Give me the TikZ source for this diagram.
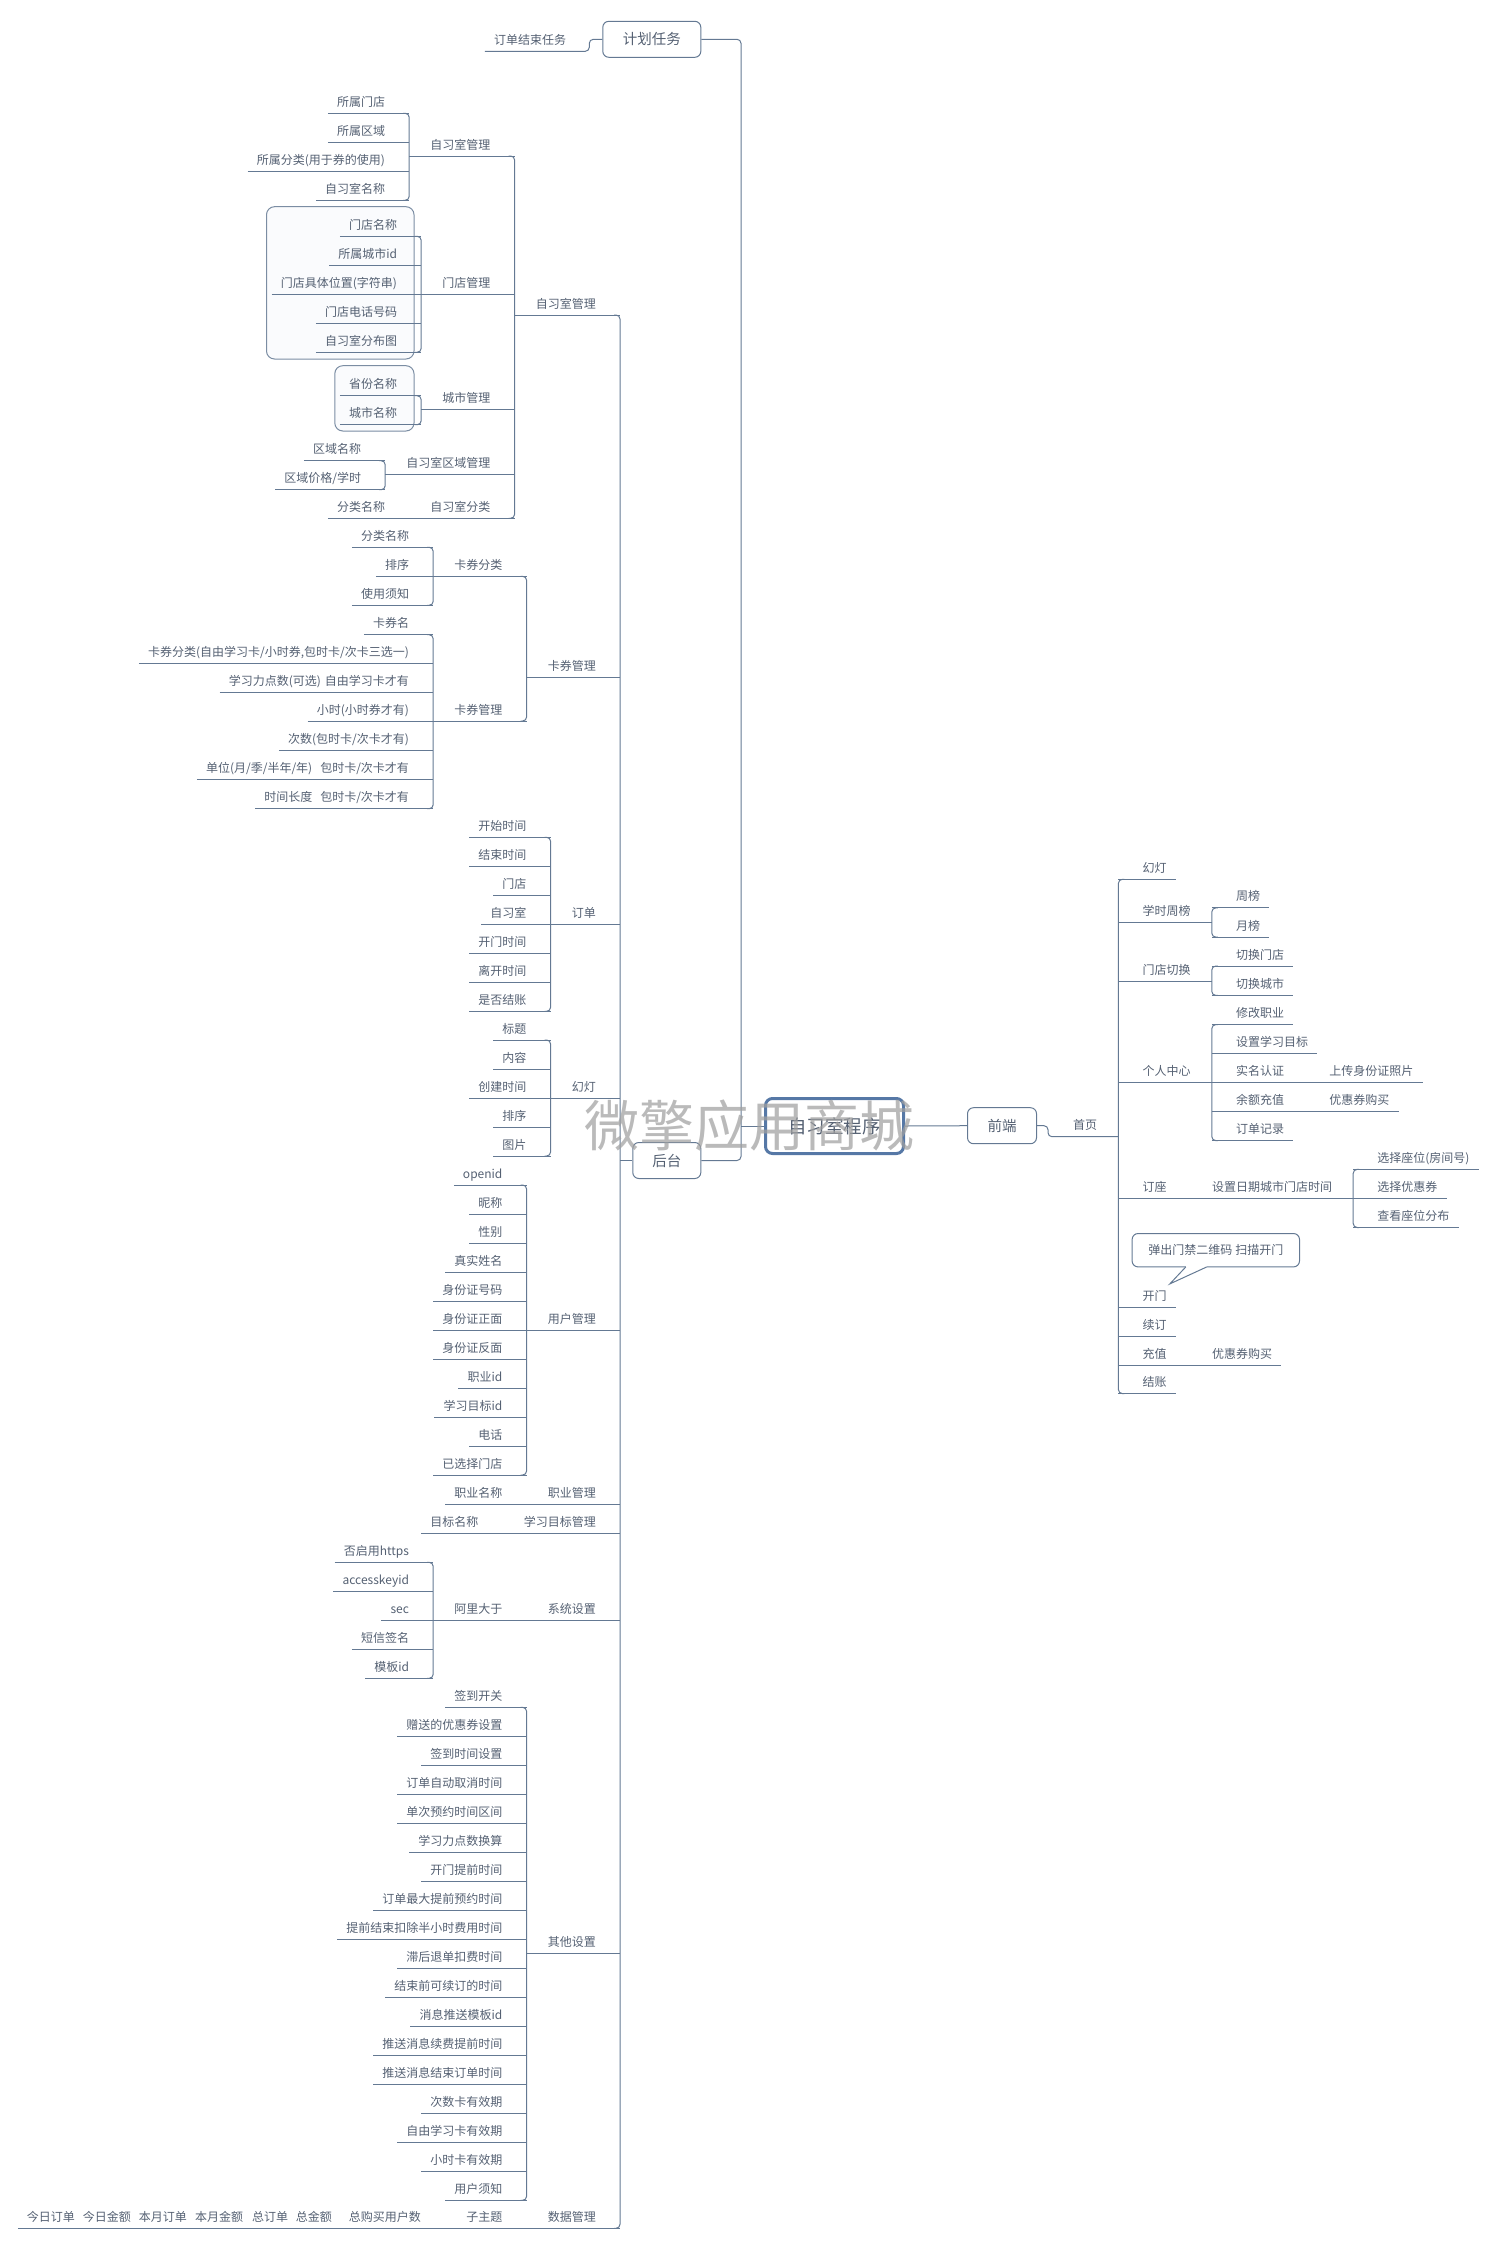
\documentclass[tikz,border=0pt]{standalone}
\usepackage{fontspec}
\setmainfont{Noto Sans CJK SC}
\usepackage{tikz}
\usetikzlibrary{positioning}
\usepackage{xcolor}
\definecolor{linec}{RGB}{100,121,147}
\definecolor{txtc}{RGB}{84,96,114}
\definecolor{rootc}{RGB}{86,120,166}
\definecolor{markc}{RGB}{160,160,160}
\definecolor{bndfill}{RGB}{250,251,253}
\tikzset{
	lbl/.style={font=\fontsize{12}{14}\selectfont,text=txtc,inner sep=0pt},
	leafl/.style={lbl,anchor=base east},
	leafr/.style={lbl,anchor=base west},
	ln/.style={draw=linec,line width=1pt,rounded corners=4pt},
	topic/.style={draw=linec,line width=1pt,rounded corners=6pt,text=txtc,font=\fontsize{14.5}{16}\selectfont,inner sep=0pt,minimum height=36pt},
	bnd/.style={draw=linec!85,line width=1pt,rounded corners=8pt,fill=bndfill}
}

\begin{document}
\begin{tikzpicture}[x=1pt,y=-1pt]
			\useasboundingbox (0,0) rectangle (1497,2251);
			\draw[bnd] (266.5,206.7) rectangle (414,359);
			\draw[bnd] (334.8,365.7) rectangle (414,431);
			\node[topic,draw=rootc,line width=3pt,rounded corners=7pt,font=\fontsize{18.5}{21}\selectfont,minimum width=138pt,minimum height=55pt] (root) at (834.5,1126) {自习室程序};
			\node[topic,minimum width=98pt] (jhrw) at (651.8,39.3) {计划任务};
			\node[topic,minimum width=68pt] (ht) at (666.8,1160.5) {后台};
			\node[topic,minimum width=69pt] (qd) at (1002,1125.7) {前端};
			\draw[ln] (root.east) -- (qd.west);
			\draw[ln] (root.west) -- ([xshift=-23pt]root.west);
			\draw[ln] (jhrw.east) -- ([xshift=-23pt]root.west |- jhrw.east) -- ([xshift=-23pt]root.west |- ht.east) -- (ht.east);
			\node[leafl] (ddjs) at ([xshift=-36pt]jhrw.west |- 0,44.3) {订单结束任务};
			\draw[ln] (jhrw.west) -- ([xshift=-13pt]jhrw.west) -- ([shift={(23,7)}]ddjs.base east) -- ([shift={(-9,7)}]ddjs.base west);
			\foreach \n/\yy/\txt in {zxgl/308/自习室管理,kqgl/670.3/卡券管理,dd/917.3/订单,hd/1091.3/幻灯,yhgl/1323/用户管理,zygl/1497/职业管理,mbgl/1526.3/学习目标管理,xtsz/1613/系统设置,qtsz/1946.3/其他设置,sjgl/2221.3/数据管理}
			\node[leafl] (\n) at (596,\yy) {\txt};
			\draw[ln] (ht.west) -- ([xshift=24pt]zxgl.base east |- ht.west);
			\foreach \n/\yy/\txt in {zsgl/149/自习室管理,mdgl/287.3/门店管理,csgl/402.3/城市管理,qygl/467/自习室区域管理,zsfl/511.3/自习室分类}
			\node[leafl] (\n) at ([xshift=-45pt]zxgl.base west |- 0,\yy) {\txt};
			\foreach \n/\yy/\txt in {kqfl/569.3/卡券分类,kqgl2/714/卡券管理}
			\node[leafl] (\n) at ([xshift=-45pt]kqgl.base west |- 0,\yy) {\txt};
			\node[leafl] (aldy) at ([xshift=-45pt]xtsz.base west) {阿里大于};
			\node[leafl] (zzt) at ([xshift=-45pt]sjgl.base west) {子主题};
			\foreach \txt [count=\i] in {所属门店,所属区域,所属分类(用于券的使用),自习室名称}
			\node[leafl] (zs\i) at ([xshift=-45pt]zsgl.base west |- 0,77.3+29*\i) {\txt};
			\foreach \txt [count=\i] in {门店名称,所属城市id,门店具体位置(字符串),门店电话号码,自习室分布图}
			\node[leafl] (md\i) at ([xshift=-45pt]mdgl.base west |- 0,200.3+29*\i) {\txt};
			\foreach \txt [count=\i] in {省份名称,城市名称}
			\node[leafl] (cs\i) at ([xshift=-45pt]csgl.base west |- 0,359.7+29*\i) {\txt};
			\foreach \txt [count=\i] in {区域名称,区域价格/学时}
			\node[leafl] (qy\i) at ([xshift=-45pt]qygl.base west |- 0,424.7+29*\i) {\txt};
			\node[leafl] (fl1) at ([xshift=-45pt]zsfl.base west) {分类名称};
			\foreach \txt [count=\i] in {分类名称,排序,使用须知}
			\node[leafl] (kf\i) at ([xshift=-45pt]kqfl.base west |- 0,511.3+29*\i) {\txt};
			\foreach \txt [count=\i] in {卡券名,{卡券分类(自由学习卡/小时券,包时卡/次卡三选一)},学习力点数(可选)\hspace{4pt}自由学习卡才有,小时(小时券才有),次数(包时卡/次卡才有),单位(月/季/半年/年)\hspace{8pt}包时卡/次卡才有,时间长度\hspace{8pt}包时卡/次卡才有}
			\node[leafl] (kg\i) at ([xshift=-45pt]kqgl2.base west |- 0,598.7+29*\i) {\txt};
			\foreach \txt [count=\i] in {开始时间,结束时间,门店,自习室,开门时间,离开时间,是否结账}
			\node[leafl] (dd\i) at ([xshift=-45pt]dd.base west |- 0,801.3+29*\i) {\txt};
			\foreach \txt [count=\i] in {标题,内容,创建时间,排序,图片}
			\node[leafl] (hd\i) at ([xshift=-45pt]hd.base west |- 0,1004+29*\i) {\txt};
			\foreach \txt [count=\i] in {openid,昵称,性别,真实姓名,身份证号码,身份证正面,身份证反面,职业id,学习目标id,电话,已选择门店}
			\node[leafl] (yh\i) at ([xshift=-45pt]yhgl.base west |- 0,1149+29*\i) {\txt};
			\node[leafl] (zy1) at ([xshift=-45pt]zygl.base west) {职业名称};
			\node[leafl] (mb1) at ([xshift=-45pt]mbgl.base west) {目标名称};
			\foreach \txt [count=\i] in {否启用https,accesskeyid,sec,短信签名,模板id}
			\node[leafl] (al\i) at ([xshift=-45pt]aldy.base west |- 0,1526.3+29*\i) {\txt};
			\foreach \txt [count=\i] in {签到开关,赠送的优惠券设置,签到时间设置,订单自动取消时间,单次预约时间区间,学习力点数换算,开门提前时间,订单最大提前预约时间,提前结束扣除半小时费用时间,滞后退单扣费时间,结束前可续订的时间,消息推送模板id,推送消息续费提前时间,推送消息结束订单时间,次数卡有效期,自由学习卡有效期,小时卡有效期,用户须知}
			\node[leafl] (qt\i) at ([xshift=-45pt]qtsz.base west |- 0,1671.3+29*\i) {\txt};
			\node[leafl] (tj) at ([xshift=-45pt]zzt.base west) {今日订单\hspace{8pt}今日金额\hspace{8pt}本月订单\hspace{8pt}本月金额\hspace{9pt}总订单\hspace{8pt}总金额\hspace{17pt}总购买用户数};
			\foreach \n in {zxgl,kqgl,dd,hd,yhgl,zygl,mbgl,xtsz,qtsz,sjgl,zsgl,mdgl,csgl,qygl,zsfl,kqfl,kqgl2,aldy,zzt}
			\draw[ln] ([shift={(-21,7)}]\n.base west) -- ([shift={(24,7)}]\n.base east);
			\foreach \pre/\cnt in {zs/4,md/5,cs/2,qy/2,kf/3,kg/7,dd/7,hd/5,yh/11,al/5,qt/18}{
				\foreach \i in {1,...,\cnt}
				\draw[ln] ([shift={(-9,7)}]\pre\i.base west) -- ([shift={(24,7)}]\pre\i.base east);
				\draw[ln] ([shift={(18,7)}]\pre1.base east) -- ([shift={(24,7)}]\pre1.base east) -- ([shift={(24,7)}]\pre\cnt.base east) -- ([shift={(18,7)}]\pre\cnt.base east);
			}
			\foreach \n in {fl1,zy1,mb1,tj}
			\draw[ln] ([shift={(-9,7)}]\n.base west) -- ([shift={(24,7)}]\n.base east);
			\foreach \a/\b in {zsgl/zsfl,kqfl/kqgl2,zxgl/sjgl}
			\draw[ln] ([shift={(18,7)}]\a.base east) -- ([shift={(24,7)}]\a.base east) -- ([shift={(24,7)}]\b.base east) -- ([shift={(18,7)}]\b.base east);
			\node[leafr] (sy) at (1073,1129.7) {首页};
			\draw[ln] (qd.east) -- ([xshift=-25pt]sy.base west |- qd.east) -- ([shift={(-25,7)}]sy.base west) -- ([shift={(21,7)}]sy.base east);
			\foreach \n/\yy/\txt in {fhd/872.3/幻灯,xszb/915.9/学时周榜,mdqh/974/门店切换,grzx/1075/个人中心,dz/1191.2/订座,km/1300/开门,xd/1329.4/续订,cz/1358/充值,jz/1386.6/结账}
			\node[leafr] (\n) at ([xshift=45pt]sy.base east |- 0,\yy) {\txt};
			\foreach \txt [count=\i] in {周榜,月榜}
			\node[leafr] (zb\i) at ([xshift=45pt]xszb.base east |- 0,871.7+29.2*\i) {\txt};
			\foreach \txt [count=\i] in {切换门店,切换城市}
			\node[leafr] (qh\i) at ([xshift=45pt]mdqh.base east |- 0,929.6+29.4*\i) {\txt};
			\foreach \txt [count=\i] in {修改职业,设置学习目标,实名认证,余额充值,订单记录}
			\node[leafr] (gz\i) at ([xshift=45pt]grzx.base east |- 0,988.6+29*\i) {\txt};
			\node[leafr] (sfz) at ([xshift=45pt]gz3.base east) {上传身份证照片};
			\node[leafr] (yhq1) at ([xshift=45pt]gz4.base east) {优惠券购买};
			\node[leafr] (szrq) at ([xshift=45pt]dz.base east) {设置日期城市门店时间};
			\foreach \txt [count=\i] in {选择座位(房间号),选择优惠券,查看座位分布}
			\node[leafr] (zw\i) at ([xshift=45pt]szrq.base east |- 0,1133.2+29.1*\i) {\txt};
			\node[leafr] (yhq2) at ([xshift=45pt]cz.base east) {优惠券购买};
			\foreach \n in {fhd,km,xd,jz,zb1,zb2,qh1,qh2,gz1,gz2,gz5,sfz,yhq1,yhq2,zw1,zw2,zw3}
			\draw[ln] ([shift={(-24,7)}]\n.base west) -- ([shift={(9,7)}]\n.base east);
			\foreach \n in {xszb,mdqh,grzx,dz,cz,gz3,gz4,szrq}
			\draw[ln] ([shift={(-24,7)}]\n.base west) -- ([shift={(21,7)}]\n.base east);
			\foreach \a/\b in {fhd/jz,zb1/zb2,qh1/qh2,gz1/gz5,zw1/zw3}
			\draw[ln] ([shift={(-18,7)}]\a.base west) -- ([shift={(-24,7)}]\a.base west) -- ([shift={(-24,7)}]\b.base west) -- ([shift={(-18,7)}]\b.base west);
			\node[lbl,minimum width=167pt,minimum height=33pt] (tc) at (1215.8,1250.2) {弹出门禁二维码\hspace{3pt}扫描开门};
			\draw[ln,rounded corners=6pt] ([xshift=-30pt]tc.south) -- (tc.south west) -- (tc.north west) -- (tc.north east) -- (tc.south east) -- ([xshift=-9pt]tc.south);
			\draw[ln,sharp corners] ([xshift=-30pt]tc.south) -- ([shift={(-46,17)}]tc.south) -- ([xshift=-9pt]tc.south);
			\node[font=\fontsize{55}{60}\selectfont,text=markc,opacity=0.72,inner sep=0pt] (wm) at (749,1126) {微擎应用商城};
		\end{tikzpicture}
\end{document}
